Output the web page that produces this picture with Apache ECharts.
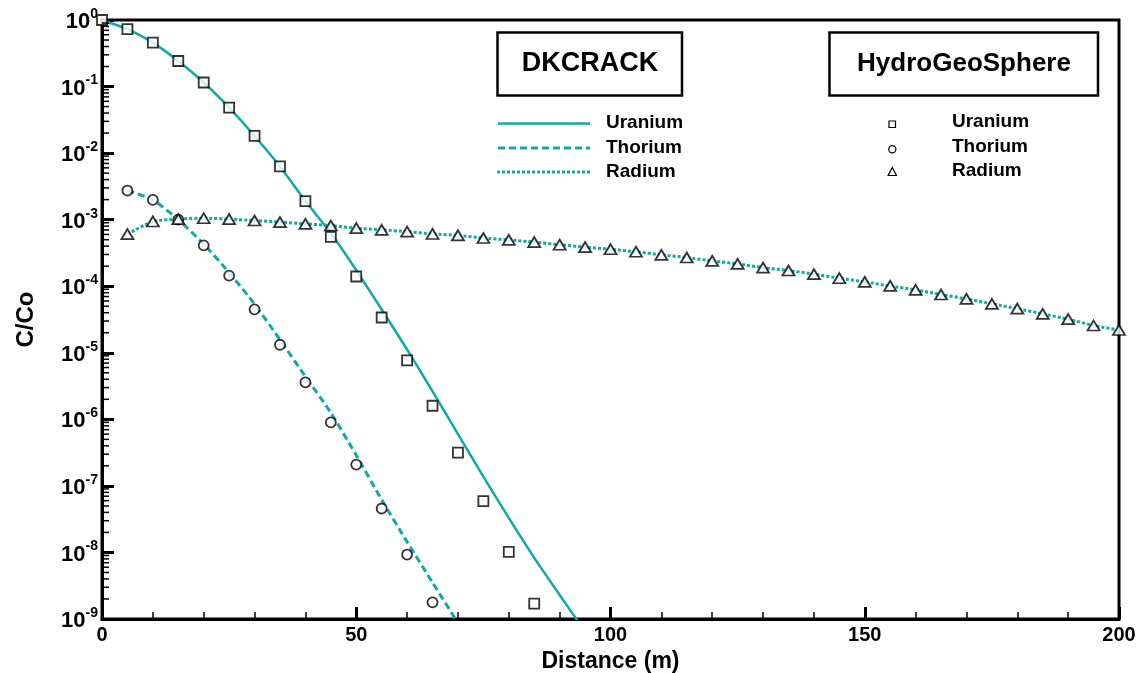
<!DOCTYPE html>
<html>
<head>
<meta charset="utf-8">
<script src="https://cdn.jsdelivr.net/npm/echarts@6/dist/echarts.min.js"></script>
<style>
  html, body { margin: 0; padding: 0; background: #fff; }
  #chart { width: 1144px; height: 673px; }
</style>
</head>
<body>
<div id="chart"></div>
<script>
// Relative concentration C/Co versus distance along the fracture.
// HydroGeoSphere results (symbols)
const hgsUraniumX = [0, 5, 10, 15, 20, 25, 30, 35, 40, 45, 50, 55, 60, 65, 70, 75, 80, 85];
const hgsUranium = [1.0, 0.73, 0.457, 0.242, 0.115, 0.0482, 0.0181, 0.0063, 0.0019, 5.5e-4,
  1.4e-4, 3.39e-5, 7.7e-6, 1.6e-6, 3.16e-7, 5.9e-8, 1.02e-8, 1.7e-9];

const hgsThoriumX = [5, 10, 15, 20, 25, 30, 35, 40, 45, 50, 55, 60, 65];
const hgsThorium = [2.74e-3, 1.98e-3, 1.0e-3, 4.1e-4, 1.44e-4, 4.5e-5, 1.32e-5, 3.6e-6,
  9.0e-7, 2.09e-7, 4.57e-8, 9.3e-9, 1.78e-9];

const hgsRadiumX = [5, 10, 15, 20, 25, 30, 35, 40, 45, 50, 55, 60, 65, 70, 75, 80, 85, 90, 95, 100,
  105, 110, 115, 120, 125, 130, 135, 140, 145, 150, 155, 160, 165, 170, 175, 180, 185, 190, 195, 200];
const hgsRadium = [6.05e-4, 9.4e-4, 1.02e-3, 1.05e-3, 1.02e-3, 9.7e-4, 9.2e-4, 8.65e-4, 8.16e-4, 7.45e-4,
  7.03e-4, 6.6e-4, 6.1e-4, 5.8e-4, 5.3e-4, 4.97e-4, 4.6e-4, 4.2e-4, 3.86e-4, 3.6e-4,
  3.3e-4, 2.96e-4, 2.7e-4, 2.4e-4, 2.17e-4, 1.9e-4, 1.72e-4, 1.52e-4, 1.32e-4, 1.16e-4,
  1.01e-4, 8.8e-5, 7.5e-5, 6.46e-5, 5.44e-5, 4.6e-5, 3.85e-5, 3.2e-5, 2.57e-5, 2.2e-5];

// DKCRACK analytical solution (lines)
const dkUraniumX = [0, 5, 10, 15, 20, 25, 30, 35, 40, 45, 50, 55, 60, 65, 70, 75, 80, 85, 90, 95];
const dkUranium = [1.0, 0.73, 0.457, 0.242, 0.115, 0.0482, 0.0181, 0.0063, 0.0019, 6.3e-4,
  1.74e-4, 4.47e-5, 1.12e-5, 2.63e-6, 6.0e-7, 1.38e-7, 3.3e-8, 8.3e-9, 2.3e-9, 6.5e-10];

const dkThoriumX = [5, 10, 15, 20, 25, 30, 35, 40, 45, 50, 55, 60, 65, 70];
const dkThorium = [2.74e-3, 1.98e-3, 1.0e-3, 4.3e-4, 1.6e-4, 5.4e-5, 1.57e-5, 4.4e-6,
  1.26e-6, 2.88e-7, 6.2e-8, 1.44e-8, 3.53e-9, 8.7e-10];

const dkRadiumX = [5, 10, 15, 20, 25, 30, 35, 40, 45, 50, 55, 60, 65, 70, 75, 80, 85, 90, 95, 100,
  105, 110, 115, 120, 125, 130, 135, 140, 145, 150, 155, 160, 165, 170, 175, 180, 185, 190, 195, 200];
const dkRadium = [6.05e-4, 9.4e-4, 1.02e-3, 1.05e-3, 1.02e-3, 9.7e-4, 9.2e-4, 8.65e-4, 8.16e-4, 7.45e-4,
  7.03e-4, 6.6e-4, 6.1e-4, 5.8e-4, 5.3e-4, 4.97e-4, 4.6e-4, 4.2e-4, 3.86e-4, 3.6e-4,
  3.3e-4, 2.96e-4, 2.7e-4, 2.4e-4, 2.17e-4, 1.9e-4, 1.72e-4, 1.52e-4, 1.32e-4, 1.16e-4,
  1.01e-4, 8.8e-5, 7.5e-5, 6.46e-5, 5.44e-5, 4.6e-5, 3.85e-5, 3.2e-5, 2.57e-5, 2.2e-5];

const speciesNames = ['Uranium', 'Thorium', 'Radium'];
const xTicks = [0, 50, 100, 150, 200];
const yDecades = [-9, 0];

const TEAL = '#10a9a9';
const FONT = '"Liberation Sans", Arial, Helvetica, sans-serif';

function pairs(xs, ys) { return xs.map((x, i) => [x, ys[i]]); }

// log-decade minor tick values (2..9 x 10^e)
const minorLogTicks = [];
for (let e = yDecades[0]; e < yDecades[1]; e++) {
  for (let k = 2; k <= 9; k++) minorLogTicks.push([0, k * Math.pow(10, e)]);
}

const chart = echarts.init(document.getElementById('chart'), null, { renderer: 'canvas' });

const markerStyle = { color: '#fff', borderColor: '#000', borderWidth: 1.8 };

const option = {
  animation: false,
  backgroundColor: '#fff',
  grid: {
    left: 102, right: 25, top: 20, bottom: 54,
    outerBoundsMode: 'none', containLabel: false,
    show: true, borderColor: '#000', borderWidth: 3, backgroundColor: 'transparent'
  },
  xAxis: {
    type: 'value',
    min: xTicks[0], max: xTicks[xTicks.length - 1], interval: 50,
    name: 'Distance (m)', nameLocation: 'middle', nameGap: 18,
    nameTextStyle: { fontFamily: FONT, fontWeight: 'bold', fontSize: 23, color: '#000' },
    axisLine: { show: true, lineStyle: { color: '#000', width: 3 } },
    axisTick: { show: true, inside: true, length: 12, lineStyle: { color: '#000', width: 3 } },
    minorTick: { show: true, splitNumber: 5, length: 7, lineStyle: { color: '#000', width: 1.5 } },
    splitLine: { show: false },
    axisLabel: { fontFamily: FONT, fontWeight: 'bold', fontSize: 20, color: '#000', margin: 6 }
  },
  yAxis: {
    type: 'log', logBase: 10,
    min: Math.pow(10, yDecades[0]), max: Math.pow(10, yDecades[1]),
    name: 'C/Co', nameLocation: 'middle', nameGap: 64, nameRotate: 90,
    nameTextStyle: { fontFamily: FONT, fontWeight: 'bold', fontSize: 24, color: '#000' },
    axisLine: { show: true, lineStyle: { color: '#000', width: 3 } },
    axisTick: { show: true, inside: true, length: 12, lineStyle: { color: '#000', width: 3 } },
    splitLine: { show: false },
    axisLabel: {
      margin: 4,
      formatter: function (v) {
        const e = Math.round(Math.log10(v));
        return '{b|10}{s|' + e + '}';
      },
      rich: {
        b: { fontFamily: FONT, fontWeight: 'bold', fontSize: 22, color: '#000', lineHeight: 26, verticalAlign: 'bottom' },
        s: { fontFamily: FONT, fontWeight: 'bold', fontSize: 14, color: '#000', lineHeight: 14, verticalAlign: 'top' }
      }
    }
  },
  series: [
    {
      name: 'log minor ticks', type: 'custom', silent: true, clip: false, z: 5,
      data: minorLogTicks,
      renderItem: function (params, api) {
        const p = api.coord([api.value(0), api.value(1)]);
        return {
          type: 'line',
          shape: { x1: p[0], y1: p[1], x2: p[0] + 7, y2: p[1] },
          style: { stroke: '#000', lineWidth: 1.5 }
        };
      }
    },
    {
      name: 'DKCRACK Uranium', type: 'line', data: pairs(dkUraniumX, dkUranium),
      showSymbol: false, symbol: 'none', smooth: 0.2,
      lineStyle: { color: TEAL, width: 2.5, type: 'solid' }, z: 2
    },
    {
      name: 'DKCRACK Thorium', type: 'line', data: pairs(dkThoriumX, dkThorium),
      showSymbol: false, symbol: 'none', smooth: 0.2,
      lineStyle: { color: TEAL, width: 3, type: [7, 4] }, z: 2
    },
    {
      name: 'DKCRACK Radium', type: 'line', data: pairs(dkRadiumX, dkRadium),
      showSymbol: false, symbol: 'none', smooth: 0.2,
      lineStyle: { color: TEAL, width: 3, type: [3, 2] }, z: 2
    },
    {
      name: 'HGS Uranium', type: 'scatter', data: pairs(hgsUraniumX, hgsUranium),
      symbol: 'rect', symbolSize: 10, itemStyle: markerStyle, z: 3
    },
    {
      name: 'HGS Thorium', type: 'scatter', data: pairs(hgsThoriumX, hgsThorium),
      symbol: 'circle', symbolSize: 10, itemStyle: markerStyle, z: 3
    },
    {
      name: 'HGS Radium', type: 'scatter', data: pairs(hgsRadiumX, hgsRadium),
      symbol: 'triangle', symbolSize: [12, 10], itemStyle: markerStyle, z: 3
    }
  ],
  graphic: [
    // DKCRACK legend
    { type: 'rect', shape: { x: 497.5, y: 32.5, width: 184.5, height: 63 },
      style: { fill: '#fff', stroke: '#000', lineWidth: 2.5 }, z: 10 },
    { type: 'text', x: 590, y: 64, z: 11,
      style: { text: 'DKCRACK', fontFamily: FONT, fontWeight: 'bold', fontSize: 27, fill: '#000',
        align: 'center', verticalAlign: 'middle' } },
    { type: 'line', shape: { x1: 498, y1: 123.5, x2: 590, y2: 123.5 }, z: 11,
      style: { stroke: TEAL, lineWidth: 2.5 } },
    { type: 'line', shape: { x1: 498, y1: 148, x2: 590, y2: 148 }, z: 11,
      style: { stroke: TEAL, lineWidth: 3, lineDash: [7, 4] } },
    { type: 'line', shape: { x1: 497, y1: 172, x2: 592, y2: 172 }, z: 11,
      style: { stroke: TEAL, lineWidth: 3, lineDash: [3, 2] } },
    { type: 'text', x: 606, y: 123, z: 11,
      style: { text: speciesNames[0], fontFamily: FONT, fontWeight: 'bold', fontSize: 19, fill: '#000', verticalAlign: 'middle' } },
    { type: 'text', x: 606, y: 147.5, z: 11,
      style: { text: speciesNames[1], fontFamily: FONT, fontWeight: 'bold', fontSize: 19, fill: '#000', verticalAlign: 'middle' } },
    { type: 'text', x: 606, y: 172, z: 11,
      style: { text: speciesNames[2], fontFamily: FONT, fontWeight: 'bold', fontSize: 19, fill: '#000', verticalAlign: 'middle' } },

    // HydroGeoSphere legend
    { type: 'rect', shape: { x: 829.5, y: 32.5, width: 268.5, height: 63 },
      style: { fill: '#fff', stroke: '#000', lineWidth: 2.5 }, z: 10 },
    { type: 'text', x: 964, y: 64, z: 11,
      style: { text: 'HydroGeoSphere', fontFamily: FONT, fontWeight: 'bold', fontSize: 26, fill: '#000',
        align: 'center', verticalAlign: 'middle' } },
    { type: 'rect', shape: { x: 889, y: 121, width: 6.5, height: 6.5 }, z: 11,
      style: { fill: '#fff', stroke: '#000', lineWidth: 1.2 } },
    { type: 'circle', shape: { cx: 892.3, cy: 149.3, r: 3.6 }, z: 11,
      style: { fill: '#fff', stroke: '#000', lineWidth: 1.2 } },
    { type: 'polygon', shape: { points: [[892.3, 167.5], [896.5, 175.5], [888.1, 175.5]] }, z: 11,
      style: { fill: '#fff', stroke: '#000', lineWidth: 1.2 } },
    { type: 'text', x: 952, y: 121.5, z: 11,
      style: { text: speciesNames[0], fontFamily: FONT, fontWeight: 'bold', fontSize: 19, fill: '#000', verticalAlign: 'middle' } },
    { type: 'text', x: 952, y: 146.5, z: 11,
      style: { text: speciesNames[1], fontFamily: FONT, fontWeight: 'bold', fontSize: 19, fill: '#000', verticalAlign: 'middle' } },
    { type: 'text', x: 952, y: 170.5, z: 11,
      style: { text: speciesNames[2], fontFamily: FONT, fontWeight: 'bold', fontSize: 19, fill: '#000', verticalAlign: 'middle' } }
  ]
};

chart.setOption(option);
</script>
</body>
</html>
